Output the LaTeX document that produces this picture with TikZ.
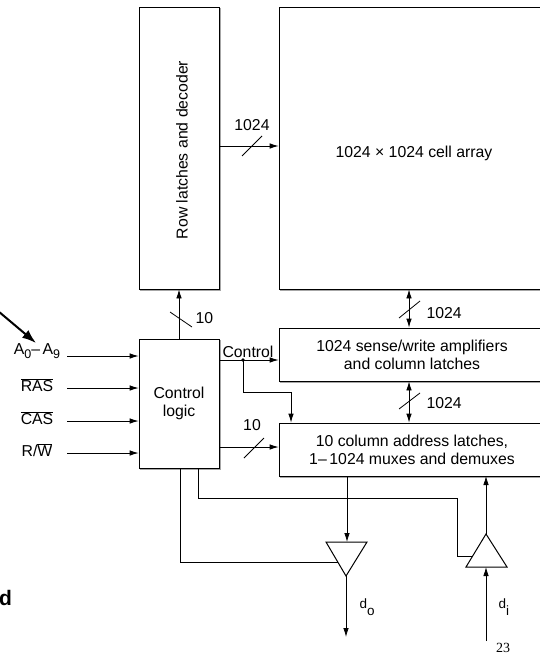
\documentclass[tikz,border=0pt]{standalone}
\usepackage{fontspec}
\setmainfont{Liberation Sans}
\newfontfamily\serifF{Liberation Serif}
\usetikzlibrary{arrows.meta,calc}
\newcommand{\lowsub}[1]{\raisebox{-4.5pt}{\fontsize{12.5}{13}\selectfont #1}}
\newcommand{\dsub}[1]{\raisebox{-7pt}{#1}}
\newcommand{\obar}[1]{$\overline{\hbox{#1}}$}
\begin{document}
\begin{tikzpicture}[x=1pt,y=-1pt,
  every node/.style={font=\fontsize{15.8}{18}\selectfont},
  box/.style={draw, line width=0.8pt, inner sep=0pt, align=center},
  arr/.style={line width=0.8pt, -{Latex[length=9pt,width=5.5pt]}},
  biarr/.style={line width=0.8pt, {Latex[length=9pt,width=5.5pt]}-{Latex[length=9pt,width=5.5pt]}},
  wire/.style={line width=0.8pt},
  shade/.style={gray!70, line width=1pt}]
\useasboundingbox (0,0) rectangle (540,658);

% boxes
\node[box, minimum width=80pt, minimum height=282pt] (row) at (179,148) {};
\node[rotate=90] (rowtxt) at (182,150) {Row latches and decoder};
\node[box, minimum width=266pt, minimum height=282pt] (arr) at (412,148) {};
\node (arrtxt) at (414,153) {1024 × 1024 cell array};
\node[box, minimum width=266pt, minimum height=53pt] (sense) at (412,354.5) {1024 sense/write amplifiers\\and column latches};
\node[box, minimum width=266pt, minimum height=53pt] (col) at (412,449.5) {10 column address latches,\\1–\,1024 muxes and demuxes};
\node[box, minimum width=80pt, minimum height=129pt] (ctrl) at (179,403.5) {Control\\logic};

% shadows
\foreach \b in {row,ctrl}{
  \draw[shade] ([shift={(1.2,1.2)}]\b.south west) -- ([shift={(1.2,1.2)}]\b.south east) -- ([shift={(1.2,1.2)}]\b.north east);
}
\foreach \b in {arr,sense,col}{
  \draw[shade] ([shift={(1.2,1.2)}]\b.south west) -- ([shift={(1.2,1.2)}]\b.south east);
}

% row -> array
\coordinate (r1) at (219,146);
\draw[arr] (r1) -- (r1 -| arr.west);
\draw[wire] (242,156) -- (262,136);
\node (l1024a) at (252,125) {1024};

% control -> row
\draw[arr] (ctrl.north) -- (row.south);
\draw[wire] (170,312) -- (192,327);
\node[anchor=west] (l10a) at (192,318) {10};

% array <-> sense, sense <-> col
\coordinate (bx) at (409,0);
\draw[biarr] (arr.south -| bx) -- (sense.north -| bx);
\draw[wire] (399,318) -- (420,301);
\node[anchor=west] (l1024b) at (423,313) {1024};
\draw[biarr] (sense.south -| bx) -- (col.north -| bx);
\draw[wire] (399,409) -- (420,393);
\node[anchor=west] (l1024c) at (423,403) {1024};

% inputs
\node (inAl) at (37,351) {A\lowsub{0}–\,A\lowsub{9}};
\node (inRl) at (37,385) {\obar{RAS}};
\node (inCl) at (37,418) {\obar{CAS}};
\node (inWl) at (37,450) {R/\obar{W}};
\foreach \n/\y in {A/356,R/388,C/421,W/453}{
  \coordinate (in\n) at (67,\y);
  \draw[arr] (in\n) -- (in\n -| ctrl.west);
}

% big pointer arrow
\coordinate (big0) at (-2,311);
\coordinate (big1) at (36,343);
\draw[line width=2pt, -{Latex[length=14pt,width=10pt]}] (big0) -- (big1);

% control outputs
\coordinate (c1) at (219,360);
\coordinate (cdot) at (243,360);
\coordinate (cb) at (291,392);
\draw[arr] (c1) -- (c1 -| sense.west);
\node[anchor=south] (lctrl) at (248,361) {Control};
\fill (cdot) circle (1.8pt);
\draw[arr] (cdot) |- (cb) -- (cb |- col.north);
\coordinate (c2) at (219,447);
\draw[arr] (c2) -- (c2 -| col.west);
\draw[wire] (244,458) -- (264,438);
\node (l10b) at (252,425) {10};

% buffers
\coordinate (obL) at (326,542);
\coordinate (obR) at (367,542);
\coordinate (obA) at (346,576);
\draw[line width=1pt] (obL) -- (obR) -- (obA) -- cycle;
\coordinate (ibL) at (466,567);
\coordinate (ibR) at (507,567);
\coordinate (ibA) at (486,534);
\draw[line width=1pt] (ibL) -- (ibR) -- (ibA) -- cycle;

% enables
\coordinate (e1) at (180,468);
\coordinate (e1e) at (338,562);
\draw[wire] (e1) |- (e1e);
\coordinate (e2) at (198,468);
\coordinate (e2m) at (457,498);
\coordinate (e2e) at (472,556);
\draw[wire] (e2) |- (e2m) |- (e2e);

% data paths
\coordinate (dcol) at (347,476);
\draw[arr] (dcol) -- (dcol |- obL);
\coordinate (dcol2) at (486,476);
\draw[arr] (ibA) -- (dcol2);
\coordinate (dout) at (346,637);
\draw[arr] (obA) -- (dout);
\coordinate (din) at (486,641);
\draw[arr] (din) -- (ibL -| din);
\node[anchor=west, font=\fontsize{13.5}{15}\selectfont] (ldo) at (356,607) {d\dsub{o}};
\node[anchor=west, font=\fontsize{13.5}{15}\selectfont] (ldi) at (495,607) {d\dsub{i}};

\node (pg) at (503,648) {\serifF\fontsize{14}{16}\selectfont 23};
\node[anchor=west, inner sep=0pt] (bd) at (-1,598) {\fontsize{21}{24}\selectfont\bfseries d};
\end{tikzpicture}
\end{document}
